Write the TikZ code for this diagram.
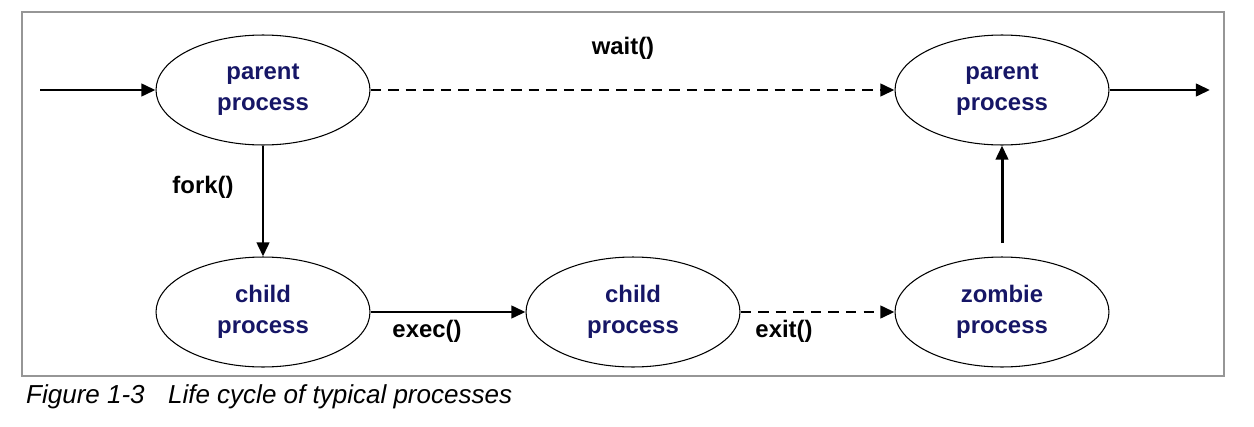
\documentclass[tikz,border=0pt]{standalone}
\usepackage{fontspec}
\setmainfont{Liberation Sans}
\usepackage{tikz}
\usetikzlibrary{shapes,arrows.meta}
\definecolor{procblue}{RGB}{22,22,102}
\definecolor{framegray}{RGB}{150,150,150}

\begin{document}
\begin{tikzpicture}[x=0.02cm,y=-0.02cm,
  >={Triangle[length=8pt,width=7pt]},
  proc/.style={ellipse,draw,line width=0.6pt,minimum width=4.28cm,
    minimum height=2.2cm,inner sep=0pt,align=center,text=procblue,
    font=\fontsize{13.6}{17.5}\selectfont\bfseries},
  lbl/.style={font=\fontsize{13.6}{16}\selectfont\bfseries},
  flow/.style={->,line width=1.7pt},
  later/.style={flow,dash pattern=on 6pt off 4pt}]
\useasboundingbox (0,0) rectangle (1254,426);
\draw[framegray,line width=0.8pt] (22,12) rectangle (1224,376);

\node[proc](p1) at (263,90) {parent\\process};
\node[proc](p2) at (1002,90) {parent\\process};
\node[proc](c1) at (263,312) {child\\process};
\node[proc](c2) at (633,312) {child\\process};
\node[proc](z) at (1002,312) {zombie\\process};

\coordinate (in) at (40,90);
\coordinate (out) at (1210,90);
\coordinate (zt) at (1002,243);

\draw[flow] (in) -- (p1);
\draw[flow] (p2) -- (out);
\draw[later] (p1) -- (p2);
\draw[flow] (p1) -- (c1);
\draw[flow] (c1) -- (c2);
\draw[later] (c2) -- (z);
\draw[flow] (zt) -- (p2);

\node[lbl](wait) at (623,48) {wait()};
\node[lbl](fork) at (203,187) {fork()};
\node[lbl](exec) at (427,331) {exec()};
\node[lbl](exit) at (784,331) {exit()};

\node[font=\fontsize{14.8}{17}\selectfont\itshape,anchor=west](cap) at (20,397)
  {Figure 1-3\hspace{0.9em}Life cycle of typical processes};
\end{tikzpicture}
\end{document}
